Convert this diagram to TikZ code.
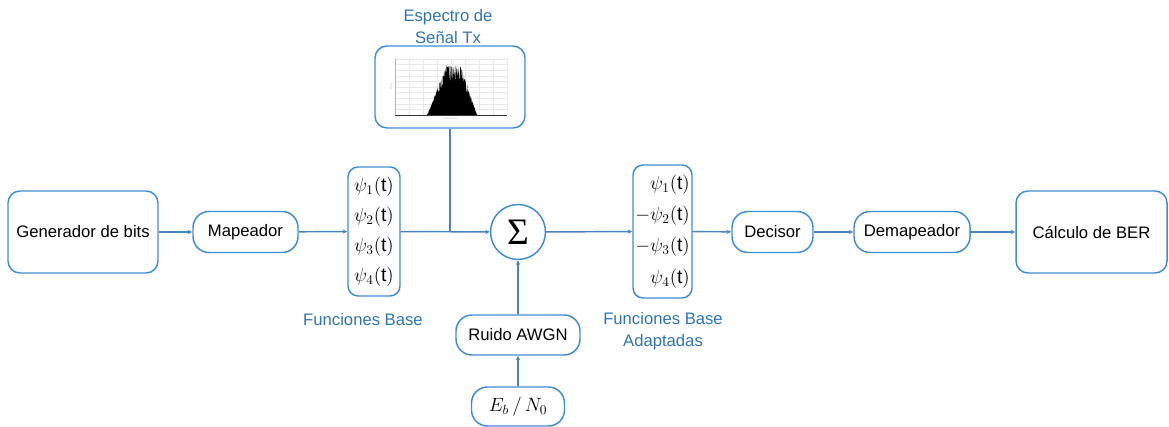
\documentclass[tikz,border=0pt]{standalone}
\usepackage{fontspec}
\setmainfont{Liberation Sans}
\newfontfamily\sigmafont{Liberation Serif}
\usetikzlibrary{arrows.meta}

\newdimen\pxu \pxu=0.75pt
\definecolor{boxblue}{HTML}{3C8DD8}
\definecolor{wireblue}{HTML}{4A84BE}
\definecolor{labelblue}{HTML}{2E75B6}

\tikzset{
  blk/.style={draw=boxblue, line width=1.1pt, rounded corners=#1, fill=white,
              inner sep=0pt, font=\fontsize{12.5}{15}\selectfont, align=center},
  blk/.default=12\pxu,
  wire/.style={draw=wireblue, line width=1.1pt,
               -{Stealth[length=3.5pt,width=3.2pt]}},
  plainwire/.style={draw=wireblue, line width=1.1pt},
  caption/.style={text=labelblue, font=\fontsize{12.5}{15}\selectfont, align=center},
  psibox/.style={blk=10\pxu, font=\fontsize{14.5}{22.5}\selectfont}
}

\begin{document}
\begin{tikzpicture}[x=0.75pt, y=-0.75pt]
\useasboundingbox (0,0) rectangle (1169,427);

% processing blocks
\node[blk, minimum width=150\pxu, minimum height=82\pxu] (gen) at (83,232) {Generador de bits};
\node[blk=16\pxu, minimum width=105\pxu, minimum height=41\pxu] (map) at (245.5,232) {Mapeador};
\node[psibox, minimum width=52\pxu, minimum height=129\pxu, align=center] (fb) at (374,231.5)
  {$\psi_1(\mathrm{t})$\\$\psi_2(\mathrm{t})$\\$\psi_3(\mathrm{t})$\\$\psi_4(\mathrm{t})$};
\node[blk, minimum width=150\pxu, minimum height=82\pxu] (spec) at (450,87) {};
\node[draw=boxblue, line width=1.1pt, circle, fill=white, minimum size=55\pxu, inner sep=0pt]
  (sum) at (518,232) {\sigmafont\fontsize{28}{30}\selectfont Σ};
\node[blk=16\pxu, minimum width=124\pxu, minimum height=40\pxu] (awgn) at (518,335) {Ruido AWGN};
\node[blk=16\pxu, minimum width=93\pxu, minimum height=39\pxu] (ebn0) at (518,406.5)
  {\fontsize{14.5}{16}\selectfont$E_b\,/\,N_0$};
\node[psibox, minimum width=59\pxu, minimum height=133\pxu, align=right,
      font=\fontsize{14.5}{23.5}\selectfont] (fba) at (662.5,231.5)
  {$\psi_1(\mathrm{t})$\\${-}\psi_2(\mathrm{t})$\\${-}\psi_3(\mathrm{t})$\\$\psi_4(\mathrm{t})$};
\node[blk=16\pxu, minimum width=81\pxu, minimum height=41\pxu] (dec) at (772.5,232) {Decisor};
\node[blk=16\pxu, minimum width=116\pxu, minimum height=41\pxu] (demap) at (912,232) {Demapeador};
\node[blk, minimum width=151\pxu, minimum height=82\pxu] (ber) at (1091.5,232) {Cálculo de BER};

% captions
\node[caption] (capspec) at (448,27) {Espectro de\\[2\pxu]Señal Tx};
\node[caption] (capfb) at (363,320) {Funciones Base};
\node[caption] (capfba) at (663,331) {Funciones Base\\[2\pxu]Adaptadas};

% small spectrum plot inside the upper block
\begin{scope}
  \foreach \gx in {395,409,...,507} \draw[gray!18, line width=0.2pt] (\gx,59) -- (\gx,115);
  \foreach \gy in {59,64.6,...,115} \draw[gray!18, line width=0.2pt] (395,\gy) -- (507,\gy);
  \draw[gray!60, line width=0.3pt] (395,59) -- (395,115);
  \node[gray!60, font=\fontsize{2}{2}\selectfont, rotate=90] (ylab) at (391,87) {Mag};
  \node[gray!60, font=\fontsize{2}{2}\selectfont] (xlab) at (451,119) {Frecuencia};
  \pgfmathsetseed{17}
  \fill[black] (426,115)
    -- plot[domain=427:477, samples=300]
       (\x, {115 - max(0, 50*min(1, min((\x-427)/19, (477-\x)/16)))*(0.62+0.38*rnd)})
    -- (478,115) -- cycle;
  \draw[black!80, line width=0.5pt] (395,115) -- (507,115);
\end{scope}

% signal path
\draw[wire] (gen) -- (map);
\draw[wire] (map) -- (fb);
\draw[wire] (fb) -- (sum);
\draw[plainwire] (spec.south) -- (spec.south |- sum.west);
\draw[wire] (sum) -- (fba);
\draw[wire] (fba) -- (dec);
\draw[wire] (dec) -- (demap);
\draw[wire] (demap) -- (ber);
\draw[wire] (awgn) -- (sum);
\draw[wire] (ebn0) -- (awgn);
\end{tikzpicture}
\end{document}
